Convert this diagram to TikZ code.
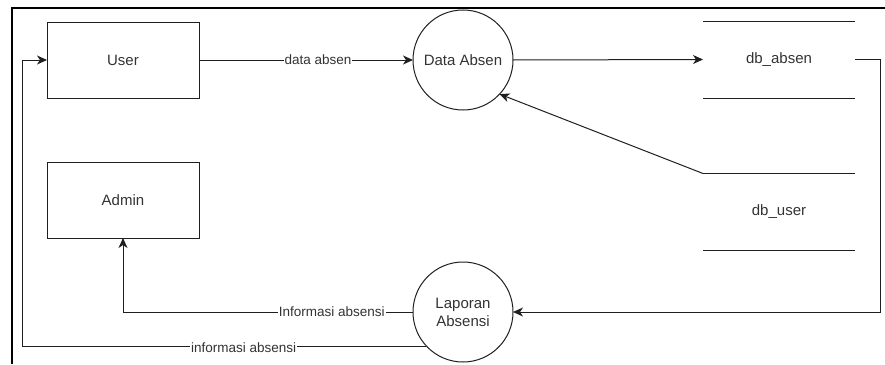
\documentclass[tikz,border=0pt]{standalone}
\usepackage{fontspec}
\setmainfont{Liberation Sans}
\usetikzlibrary{arrows.meta, positioning}

\definecolor{linegray}{HTML}{1F1F1F}
\definecolor{textgray}{HTML}{333333}

\begin{document}
\begin{tikzpicture}[
         x = 1pt, y = -1pt,
     line width = 1pt, draw=linegray,
  EntityBox/.style={draw=linegray, minimum width=152pt, minimum height=76pt,
                    outer sep=0pt, text=textgray,
                    font=\fontsize{15}{18}\selectfont},
  ProcCircle/.style={draw=linegray, circle, minimum size=100pt, inner sep=0pt,
                    outer sep=0pt, text=textgray, align=center,
                    font=\fontsize{15}{18}\selectfont},
  StoreBox/.style={minimum width=152pt, minimum height=77pt, outer sep=0pt,
                   text=textgray, font=\fontsize{15}{18}\selectfont},
  FlowLabel/.style={fill=white, inner sep=1pt, text=textgray,
                    font=\fontsize{13.5}{16}\selectfont},
  flow/.style={draw=linegray, -{Stealth[length=10pt, width=9pt, inset=3pt]}},
  ]
\useasboundingbox (0,0) rectangle (885,364);
% frame of the screenshot
\draw[line width=2.5pt, draw=black] (12,364) -- (12,8) -- (885,8);

\node [EntityBox] (user)  at (123,60)  {User};
\node [EntityBox] (admin) at (123,200) {Admin};
\node [ProcCircle] (dataabsen) at (463,60)  {Data Absen};
\node [ProcCircle] (laporan)   at (463,312) {Laporan\\Absensi};
\node [StoreBox] (dbabsen) at (779,59.5) {db\_absen};
\node [StoreBox] (dbuser)  at (779,212)  {db\_user};

% data store lines
\draw (dbabsen.north west) -- (dbabsen.north east);
\draw (dbabsen.south west) -- (dbabsen.south east);
\draw (dbuser.north west) -- (dbuser.north east);
\draw (dbuser.south west) -- (dbuser.south east);

% flows
\draw[flow] (user.east) -- node[FlowLabel, pos=0.556] {data absen} (dataabsen.west);
\draw[flow] (dataabsen.east) -- (dbabsen.west);
\draw[flow] (dbuser.north west) -- (dataabsen.-43);
\draw[flow] (dbabsen.east) -- ++(25,0) |- (laporan.east);
\draw[flow] (laporan.west) -| node[FlowLabel, pos=0.14] {Informasi absensi} (admin.south);
\draw[flow] (laporan.223) -| node[FlowLabel, pos=0.226, yshift=-2pt] {informasi absensi}
  ([xshift=-25pt]user.west) -- (user.west);
\end{tikzpicture}
\end{document}
